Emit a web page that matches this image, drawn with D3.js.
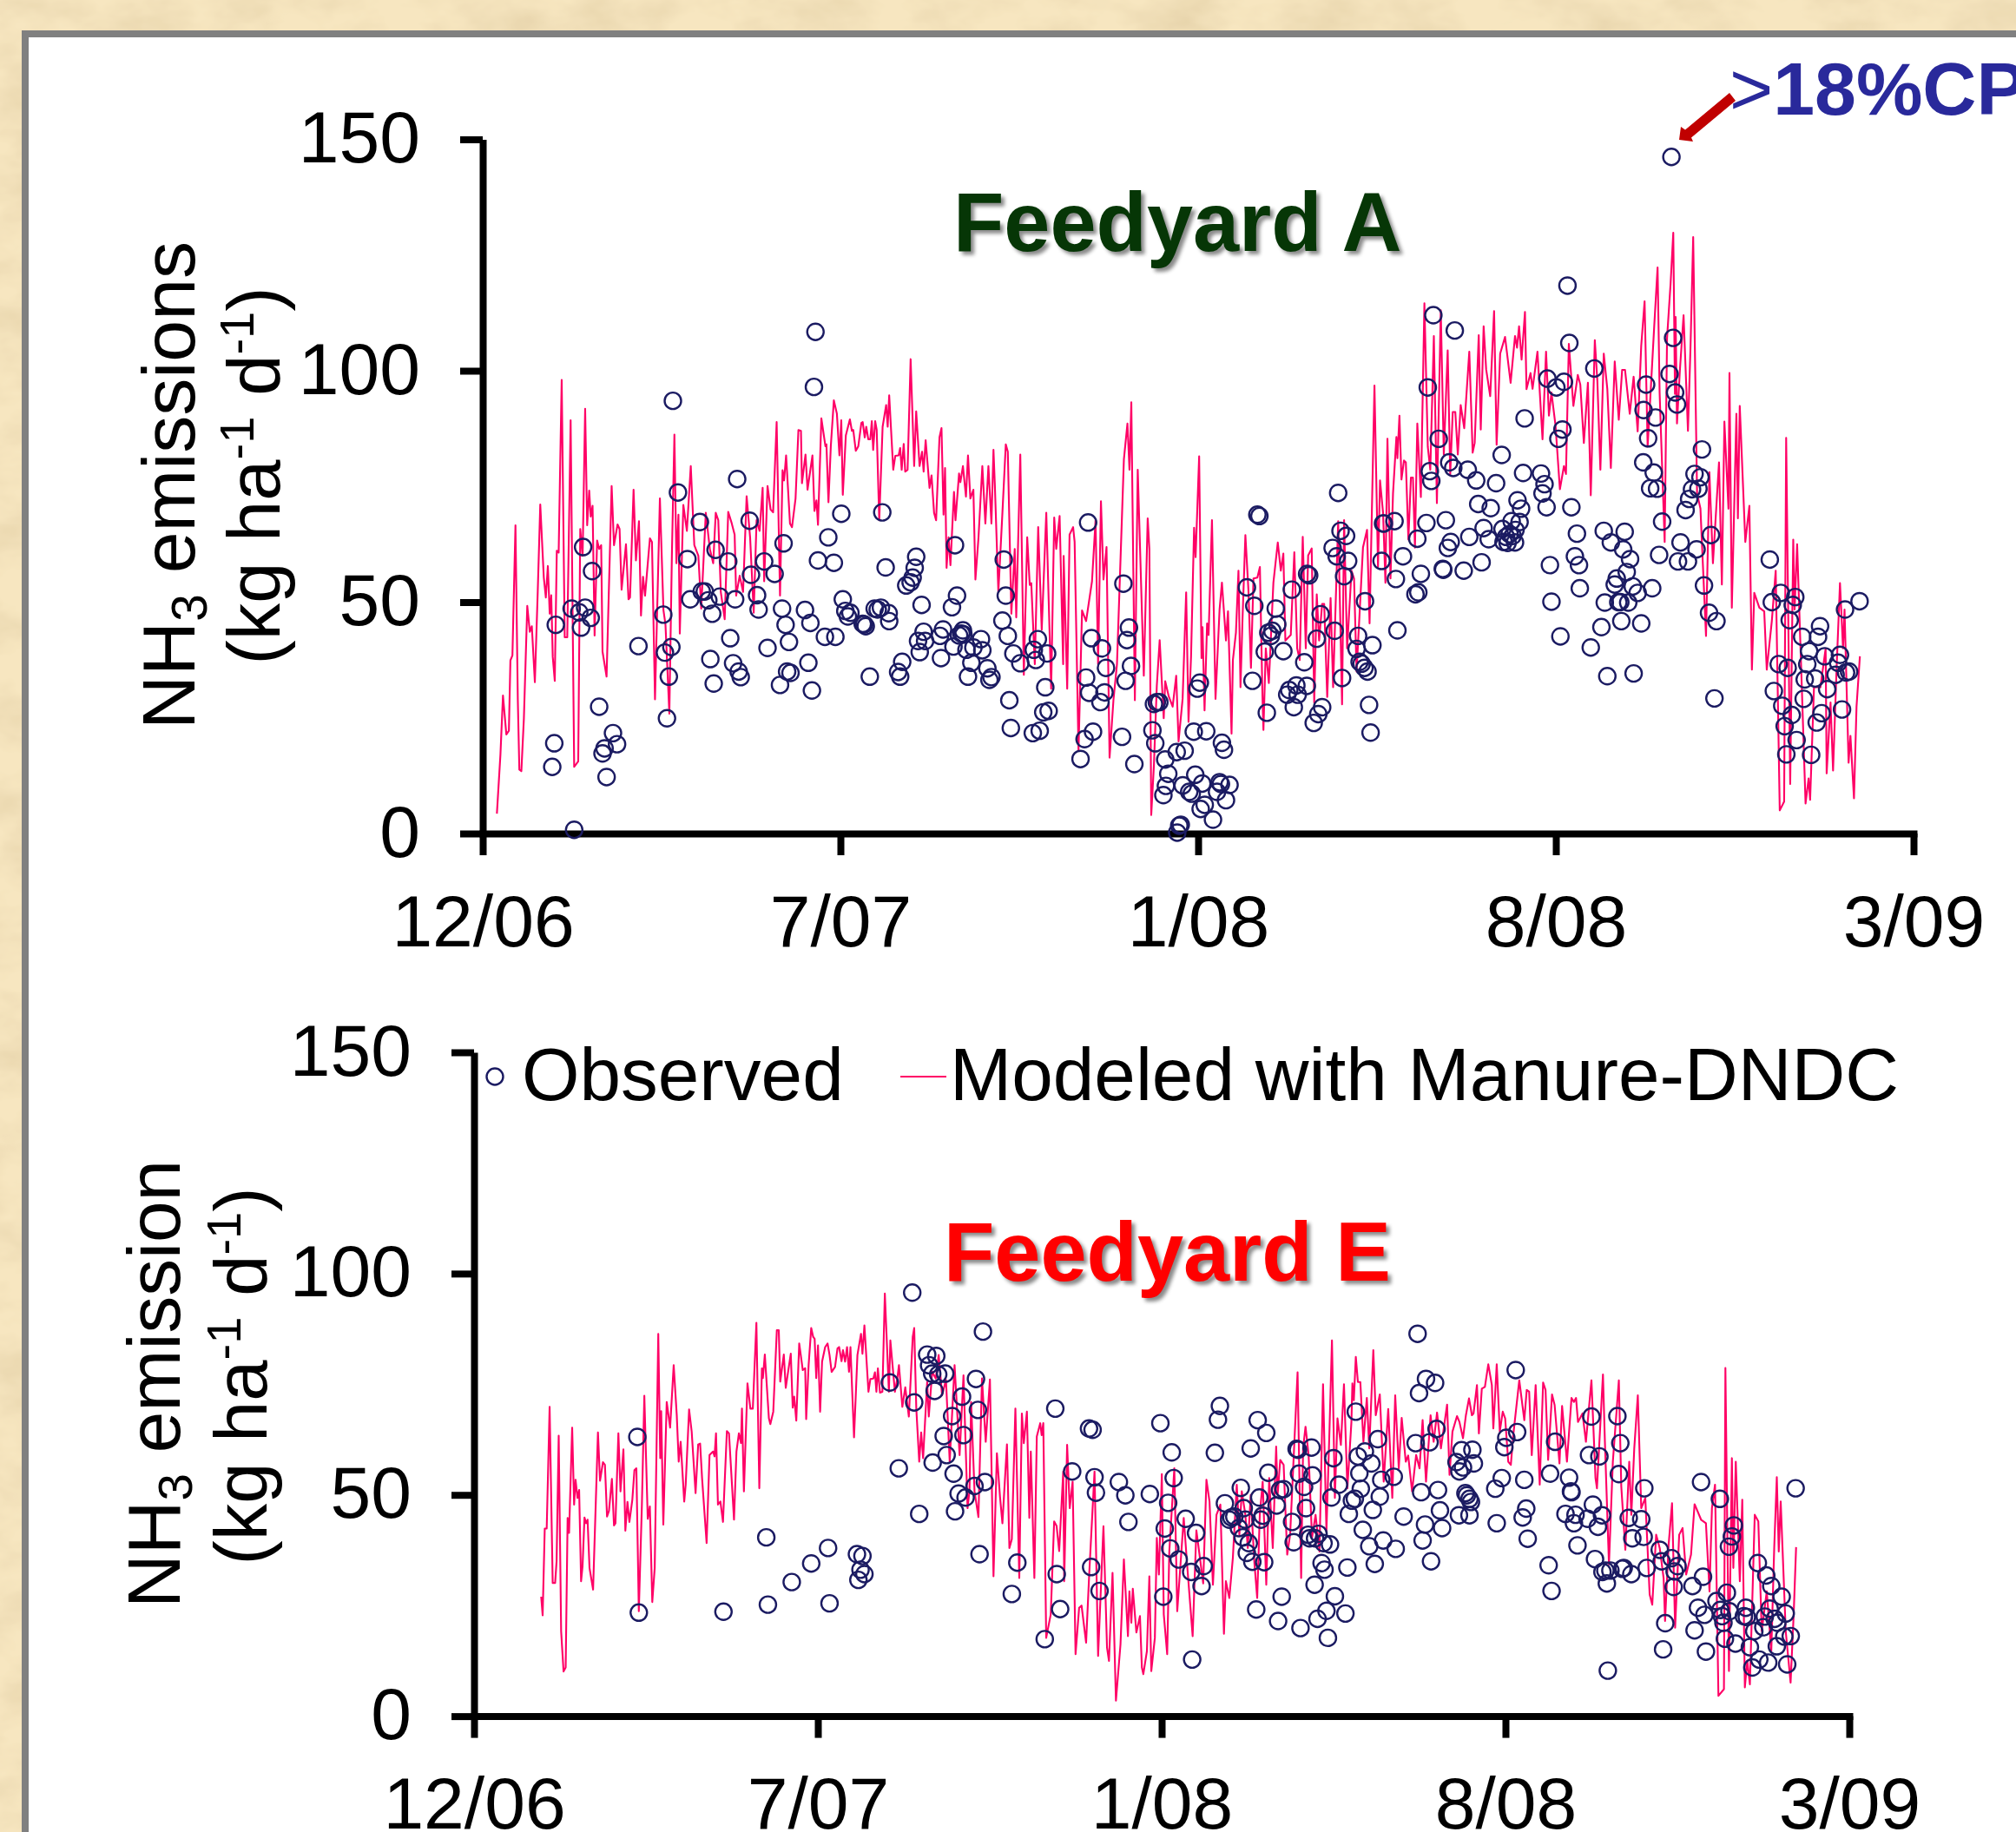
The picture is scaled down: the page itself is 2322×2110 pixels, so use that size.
<!DOCTYPE html>
<html>
<head>
<meta charset="UTF-8">
<script src="https://d3js.org/d3.v7.min.js"></script>
<style>
  html, body { margin: 0; padding: 0; background: #fff; overflow: hidden; }
  svg { display: block; }
  text { font-family: "Liberation Sans", Arial, sans-serif; fill: #000; }
  .axis path, .axis line { stroke: #000; stroke-width: 8px; }
  .axis text { font-size: 84px; font-family: "Liberation Sans", Arial, sans-serif; fill: #000; }
  .obs { fill: none; stroke: #1b1b62; stroke-width: 2.4px; }
  .model { fill: none; stroke: #ff0066; stroke-width: 2.1px; stroke-linejoin: round; }
  .title { font-size: 95.5px; font-weight: bold; filter: drop-shadow(4px 4px 2px #8a8a8a); }
</style>
</head>
<body>
<svg id="chart" width="2322" height="2110"></svg>
<script>
// x values are days counted from the 12/06 tick, the ticks are evenly spaced in the source
const xTickDays = [0, 212, 424, 636, 848];
const xTickLabels = ["12/06", "7/07", "1/08", "8/08", "3/09"];
const yTicks = [0, 50, 100, 150];

const feedyardAObserved = [[42.4,19.5],[41.2,14.4],[54.2,0.8],[43.3,45.1],[52.7,48.6],[57.2,47.8],[60.7,48.8],[64,46.6],[58.3,44.5],[59.5,61.9],[64.8,56.7],[69,27.4],[77.2,21.7],[79.6,19.3],[72.2,18.4],[71,17.3],[73.4,12.2],[92.3,40.5],[107,47.3],[108,39.1],[111.8,40.3],[110.3,33.9],[109.2,24.9],[112.7,93.5],[115.7,73.7],[121.3,59.3],[123,50.6],[128.7,67.3],[129.8,52.3],[131.6,52.3],[133.7,50.4],[136,47.5],[140.5,51.2],[138,61.3],[145.5,58.8],[149.6,50.6],[150.8,76.6],[158.2,67.6],[159,55.9],[162.6,51.5],[163.5,48.4],[166.8,58.8],[173,56.1],[178.3,62.7],[146.7,42.2],[134.9,37.7],[136.9,32.4],[148.4,36.8],[151.7,35],[152.9,33.8],[168.8,40.1],[177.4,48.6],[179.5,45.1],[181.5,41.4],[180.4,35],[182.4,34.7],[176.2,32.1],[191,48.3],[194.2,45.5],[193,36.9],[195.1,30.9],[197.2,108.4],[196.3,96.5],[198.7,59],[208.1,58.5],[204.8,64],[212.5,69.1],[213.4,50.6],[214.9,48.1],[217.9,47.7],[216.4,46.9],[202.8,42.5],[209,42.5],[225.2,45.3],[227,44.8],[226.1,45.2],[232.3,48.6],[234.1,48.4],[236,48.8],[240.6,47.6],[240.9,45.9],[236.8,69.4],[238.8,57.5],[229.4,33.9],[248.6,37.1],[246.2,34.9],[247.4,33.9],[256.9,59.8],[256,57.4],[254.8,55.3],[253.6,54.3],[251,53.6],[260.1,49.4],[279.9,62.3],[278.1,48.9],[281.1,51.4],[261.3,43.6],[258,41.6],[262.2,41.6],[259,39.2],[271,42.7],[272.8,44.1],[271.6,37.9],[279,40.4],[282.3,42.8],[284.6,43.9],[284.9,43],[283.7,43.2],[286.7,39.7],[290.8,40.2],[295.3,42],[296.1,39.6],[289.6,36.9],[287.6,33.9],[299.1,35.7],[301.5,33.8],[300.3,33.2],[308.8,59.2],[310,51.4],[308,46],[311.2,42.7],[314.5,38.9],[318.6,36.8],[312.1,28.8],[313,22.8],[326,21.7],[330.1,22.2],[327.8,37.5],[326.6,39.7],[329,42],[334.5,38.9],[333.4,31.6],[332.2,26.2],[335.4,26.5],[354.3,16.1],[356.7,20.4],[361.7,22],[358.8,67.2],[360.8,42.2],[367,40],[369.4,35.8],[357.6,33.7],[359.4,30.4],[368.5,30.5],[366.1,28.4],[378.9,20.9],[386.2,15],[379.7,54],[383,44.5],[381.8,41.8],[384.2,36.2],[381,33],[396.9,22.3],[397.8,28],[399.5,28.4],[401,28.4],[398.6,19.5],[404.5,16],[411.3,17.6],[416,17.9],[421.4,22],[428.8,22.1],[406.3,12.9],[404.9,10.3],[403.4,8.3],[414.9,10.4],[422.3,12.7],[418.7,9],[420.2,8.6],[426.4,10.8],[427.9,6.2],[425.5,5.3],[423.5,31.3],[425,32.6],[412.8,1.7],[413.7,1.9],[411.6,0.2],[438.1,19.6],[439.3,18.1],[436.7,11.1],[437.5,10.7],[442.6,10.5],[435.2,9],[440.5,7.2],[432.8,3],[452.9,53.2],[457.3,49.2],[459.1,68.9],[460.3,68.6],[456.2,33],[464.7,26.1],[463.5,39.3],[474.5,39.4],[470,48.6],[470.9,45.2],[465.6,43.4],[467.1,42.7],[468,43.8],[479.5,52.7],[488.6,56.1],[489.8,55.8],[496.6,47.4],[504.9,43.8],[494.3,42.1],[486.9,37],[488.4,31.9],[482.2,32],[478,31],[476.8,30],[483,30],[480.7,27.3],[497.5,27.3],[495.2,25.8],[492.5,23.9],[507,73.6],[508.4,65.4],[511.7,64.3],[503.7,61.7],[506.1,59.9],[512.9,58.9],[510.5,55.6],[522.9,50.2],[518.8,42.7],[517.9,39.9],[527.3,40.7],[519.7,37.1],[520.9,36.7],[522.6,35.8],[524.4,35],[509.3,33.6],[525.3,27.8],[526.2,21.8],[532.7,58.9],[533.6,67],[534.1,67],[540.4,67.5],[545.4,59.9],[541.2,55],[542.1,43.9],[552.8,51.7],[554.5,52.1],[556,56.1],[553.9,63.7],[559.3,67.1],[560.1,96.4],[563.4,112],[576.1,108.7],[566.6,85.3],[561.3,78.3],[562.2,76.2],[572.8,80.2],[575.2,79],[583.8,78.6],[588.8,76.3],[603.9,81.8],[600.6,75.7],[616.6,77.9],[570.8,67.7],[569.3,57],[569,57.2],[573.7,63],[572,61.7],[584.7,64.1],[581.4,56.8],[592,58.6],[590,71.2],[597.4,70.3],[593.2,66],[596.2,63.6],[604.4,65.8],[609.8,67.5],[613.3,72],[615.4,70.2],[614.5,67.3],[612.1,65.6],[606.5,64.1],[608.6,64.7],[610.4,64.3],[605,63],[607.4,62.8],[611.8,62.9],[627.2,77.8],[629.3,75.5],[628.1,73.5],[630.5,70.5],[617.5,89.7],[631,98.3],[636.3,96.4],[640.8,97.6],[642.9,118.4],[644,106],[639.9,87.3],[637.5,85.3],[645.2,70.5],[648.5,64.8],[632.5,58],[647.3,59.9],[649.7,58],[650.2,53],[633.4,50.1],[638.7,42.6],[658.8,100.5],[664.4,65.4],[668.6,62.9],[676.8,65.2],[675.9,61.4],[680,59.3],[678,56.5],[672.1,55.1],[670.9,53.8],[681.6,53.4],[684.5,52],[693.1,53],[665,49.9],[673,50],[674.2,50],[678.9,49.9],[663,44.6],[674.8,45.9],[686.6,45.4],[656.7,40.2],[666.5,34],[682.1,34.6],[687.8,80.2],[689.5,97],[688,91.5],[695.1,89.9],[690.7,85.4],[694,78],[691.9,74.6],[696,74.5],[703.4,99.3],[705.5,107.1],[706.7,95.3],[707.8,92.7],[704.5,146.2],[699,67.4],[697.2,60.2],[708.4,58.8],[714.3,58.8],[709.9,62.9],[719.4,61.4],[722.6,83],[718.2,77.7],[721.7,77],[716.7,74.4],[720.5,74.5],[715,72.3],[712.9,69.9],[727.9,64.5],[723.8,53.6],[726.8,47.7],[731.2,45.9],[730,29.2],[762.8,59.2],[769.3,52],[764,50],[777.9,51.1],[776.4,49.4],[774.6,46.1],[782,42.5],[792.6,44.8],[791.4,42.5],[807.4,48.4],[816,50.2],[786.1,39.4],[785,36.6],[795.3,38.3],[804.4,38.6],[803.3,36.9],[768.1,36.6],[773.4,35.8],[783.5,33.3],[789.7,33.5],[801.8,34.3],[808,34.8],[809.8,35],[796.8,31.2],[765.2,30.8],[782.9,29.1],[770.2,27.6],[775.8,25.6],[793.5,26],[790.6,24],[805.6,26.8],[771.6,23.2],[778.7,20.2],[772.6,17.1],[787.3,17]];

const feedyardAModeled = [[8.4,4.3],[10.5,17.1],[12,29.8],[14,21.4],[15.5,22.2],[16.4,37.4],[17.6,38.5],[19.4,66.6],[20.8,28.8],[21.7,13.8],[22.9,13.5],[24.4,24.9],[26.4,49.2],[27.9,43.6],[29.1,44.8],[30.9,32.7],[32.6,52.2],[34.1,71.1],[36.2,55.3],[37.4,51],[38.6,57.8],[39.7,47.5],[40.6,51.5],[41.5,38.2],[42.7,33],[43.9,61.1],[45,60.7],[46.8,98],[48.6,42.4],[50.1,42.4],[52.1,89.3],[54.2,14.4],[56.6,15.6],[57.8,65.8],[59.2,60],[60.7,91.8],[61.9,66.6],[63.1,74.1],[64,68.5],[65.1,70.8],[66.3,42.8],[67.8,63.3],[69,61.5],[70.2,62.3],[71,39.3],[73.4,33.9],[76.4,75.1],[77.8,62.3],[79.9,66.8],[81.1,65.8],[82.3,52.7],[84.9,62.5],[86.4,50.6],[87.3,51],[89.4,74.3],[90.8,59],[92.6,67.5],[93.8,47.1],[95,55.5],[96.2,51.4],[98.2,60],[99.1,63.8],[100.3,63],[102.1,29],[105,72.4],[107.1,48.3],[108.3,45.2],[110.6,25.9],[112.1,60],[113.6,86.2],[114.8,58.4],[116,68.9],[116.8,43.2],[118.9,71],[121,65.4],[123.3,79.4],[125.4,62.3],[127.8,60],[129.5,48.6],[132.2,69.3],[134.6,61.5],[136.6,58.4],[138.1,69.3],[139.6,67.7],[141.1,52.2],[143.4,46.3],[145.5,69.5],[147.6,67],[149.3,64.6],[150.2,51.4],[152.3,55.7],[154.3,52.2],[156.4,72.9],[158.5,63.8],[160.6,47.7],[162.3,67.7],[164.1,65.4],[165.9,74.7],[166.8,54.5],[168.8,75.1],[170.6,70],[172.1,69.4],[174.2,88.9],[176.2,51.4],[177.7,78.5],[178.6,76.3],[179.8,81.7],[182.1,67],[183.3,66.2],[185.4,72.4],[187.1,87.2],[188.6,87],[189.2,75.7],[191.3,81.9],[192.5,74.3],[195.4,81.7],[196.6,69.7],[197.8,72],[198.7,66.7],[200.7,89.7],[203.1,83.7],[203.7,84.1],[204.9,71.6],[206.3,83.7],[208.1,93.6],[209.9,90.7],[211.4,81.7],[212.5,89.3],[213.4,73.2],[215.2,86],[217.6,89.5],[218.8,87],[219.6,87.2],[221.1,82.7],[222.6,83.7],[224.4,88.7],[225.2,88.9],[226.4,85.6],[227.3,87.9],[228.5,85.2],[229.7,85.2],[230.6,89.1],[231.4,82.9],[232.6,89.1],[233.5,87.2],[235,67.7],[237,87.9],[239.1,92.6],[240,87.9],[240.9,94.7],[243.3,78.6],[244.5,81.6],[246.5,81.7],[247.4,83.3],[248.3,78.6],[249.5,84.2],[250.4,78.2],[251.8,78.6],[253.6,102.5],[255.7,79.4],[256.9,91.2],[258.9,79.4],[260.4,82.5],[261.3,78.2],[262.5,85],[264.8,74.7],[266,77.4],[267.5,69.3],[268.7,67.7],[270.7,85.6],[271.9,87.6],[273.1,68.9],[274,79],[274.9,57.4],[276.1,64],[277.2,58],[279.3,73.8],[280.2,67.7],[282.3,77.8],[283.1,75.9],[284.6,79.4],[286.4,72.8],[287.6,81.7],[289,72.4],[290.8,74.3],[292,54.9],[293.8,63.8],[296.1,79.4],[297.9,67],[299.7,79.4],[301.5,67],[302.7,82.9],[303.5,75.5],[305.6,52.2],[308,69.3],[310,84.1],[311.2,82.5],[313.3,47.5],[315.3,61.5],[316.2,46.7],[318.6,81.9],[320.7,34.3],[322.7,64],[324.2,53.7],[325.1,54.1],[327.2,36.6],[329.2,66.2],[331.3,44],[334,69.3],[335.4,50.6],[336.9,31.3],[338.7,68.3],[339.9,61.5],[341.9,68.6],[344,36.6],[344.3,60],[346.4,31.3],[347.8,64.6],[349.9,66.2],[350.8,63],[353.1,17.9],[355.2,48.2],[357.6,45.9],[361.1,54.5],[363.2,67.7],[364.7,36.6],[366.4,71.8],[367.9,54.9],[369.7,61.9],[371.5,16.4],[373.8,28.8],[375.9,36.6],[380,80.9],[382.1,88.6],[383.3,78.6],[384.4,93.2],[386.5,28.8],[388.2,78.6],[391.8,34.1],[394.1,68.1],[395.1,61.5],[396.2,4],[397.8,14.8],[399.5,31.9],[401.2,41.8],[403.6,24.9],[404.5,32.9],[406.6,29.6],[408.9,27.4],[411,34.1],[412.4,19.9],[414.8,29.1],[416.9,52.1],[418.3,24.1],[419.8,38.3],[421.6,66.1],[422.5,59.7],[424.6,81.5],[426,37.9],[426.6,44.6],[427.8,26.6],[429.3,45.4],[430.2,42.9],[432.2,67.7],[434.3,29.1],[436.7,48.4],[438.1,54.2],[440.5,41.7],[441.7,48],[443.8,21.6],[444.6,37.5],[446.4,43.4],[447.9,56.8],[449.1,31.6],[450.3,46.3],[452,64.5],[453.8,52.6],[455.3,35.8],[456.8,55.1],[459.1,55.3],[460.6,57.6],[462.1,30],[462.7,22.4],[464.1,40],[465.9,32.5],[468.6,54.2],[471.2,62.9],[473,56.8],[474.5,60.5],[475.7,41.7],[478.9,42.9],[481,60.8],[482.7,40],[484.2,37.5],[486,64.1],[487.8,40],[489.2,60.1],[491.3,61.6],[492.8,28.3],[494.3,51.7],[495.7,41.7],[497.5,49.6],[498.7,49.6],[500.5,29.5],[502.5,50.9],[504,31.6],[507,67.5],[509.3,27.9],[510.5,67.7],[512.3,40],[514.9,56.8],[516.4,55.1],[517.9,35],[521.7,61.8],[524.1,65.6],[525.6,45.4],[528.5,96.8],[530.6,57.6],[531.8,76.3],[533.6,69.3],[535,54.2],[536.2,85.3],[538,55.1],[539.5,73.5],[541.5,85.7],[542.1,81.1],[543.3,90.3],[544.5,76.5],[546,80.6],[547.1,80.2],[548.6,63.5],[550.1,76.9],[551.3,76.9],[552.5,61.8],[553.9,88.6],[556,72.7],[558.1,114.6],[560.1,83.6],[561.6,78.6],[563.7,107.5],[565.5,71.4],[567.8,113.1],[569.6,81.9],[571.9,104.4],[573.4,77.7],[574.9,91.1],[576.4,91.1],[577.9,81.9],[579.6,92.6],[581.7,87.6],[584.7,104.1],[586.7,82.3],[587.9,84.4],[590.3,107.7],[591.5,87.3],[593.2,109.6],[594.7,100.3],[597.1,94.5],[599.4,112.9],[600.9,84],[603,103.7],[605.9,107.3],[609.2,97.4],[611.8,107.5],[613,105],[614.2,109.6],[615.7,102.4],[617.7,112.7],[618.6,96],[621,99.5],[622.2,96.1],[625.1,104.1],[628.1,85.2],[630.2,104.1],[631.9,90.3],[633.4,95.3],[635.8,88.2],[638.4,74.4],[640.8,79.4],[642,77.7],[643.7,105.8],[646.4,92.4],[649,99.1],[650.5,97],[652.6,84.4],[655,97.4],[656.7,73.1],[659.1,106.6],[660.6,97.8],[662.4,78.6],[664.4,103.7],[666.5,96.1],[668.6,79],[670.9,102],[673.3,89.4],[675.3,100.2],[677,100.2],[679.8,90.7],[682.1,98.7],[684.5,86.9],[686.6,105.4],[688.6,115],[690.4,83.6],[694.3,109.6],[696.3,122.3],[697.5,95.3],[700.5,63],[701.9,107],[704,118.8],[705.6,129.8],[706.6,95],[707,111.6],[707.8,88.6],[709.5,100],[711.7,112],[714.3,87],[715.8,105],[717.4,128.9],[719.7,73.5],[721.7,70.2],[725,42.7],[727,78.1],[729.1,58.4],[732.7,80.2],[734.4,53.8],[735.9,89],[738.3,70.2],[738.9,99.5],[740.3,48.8],[743,90.7],[743.9,68.1],[745,92.4],[748.3,63],[750.7,70.8],[752.2,35.4],[753.6,52],[756.6,48.8],[759.5,48],[761,35.4],[764,45.9],[766.3,56.8],[768.7,5],[771.3,6.9],[772.5,85.5],[774.9,10.7],[776.7,63.5],[777.5,48.4],[779,62.5],[781.4,35.8],[784,6.5],[785.8,11.9],[786.7,7.3],[789,31.6],[792.8,31.6],[795.9,40],[796.5,13],[798.8,28.3],[800.3,13.6],[802.4,35.8],[804.4,54.1],[806.2,40],[807.1,48.4],[809.5,15.3],[810.6,21.1],[812.7,7.6],[814.2,27.4],[816.2,38.3]];

const feedyardEObserved = [[100.7,63.1],[101.6,23.4],[153.8,23.6],[181.2,25.2],[180.2,40.4],[195.9,30.3],[207.9,34.5],[218.3,38],[219.2,25.5],[236.1,36.6],[239.5,36.2],[238.3,33.1],[240.7,32.1],[237,30.8],[256.4,75.4],[270.2,95.7],[271.4,70.9],[261.9,56],[274.5,45.7],[282.8,57.3],[279.4,81.7],[285,81.4],[280.6,79.3],[282.5,77.4],[286.2,77.2],[290.5,77.4],[284,73.5],[294.8,67.8],[289.6,63.3],[301.8,63.5],[300.9,72.2],[309.5,76.2],[310.7,69.2],[313.8,86.9],[291.4,59],[295.7,54.8],[298.8,50.3],[303.1,49.4],[308.6,52],[315,52.9],[296.6,46.3],[311.7,36.6],[335,34.7],[331.6,27.6],[351.9,17.4],[359.3,32.1],[361.4,24.2],[358.4,69.5],[379.2,65],[381.4,64.7],[368.8,55.3],[382.6,54],[383.5,50.5],[380.5,33.7],[385.7,28.3],[397.6,52.9],[401.6,49.9],[403.5,43.9],[416.7,50.2],[423.2,66.2],[430.2,59.6],[431.4,53.8],[428,48.2],[425.9,42.4],[429.3,37.9],[434.5,35.4],[425,27],[438.8,44.6],[445.2,41.4],[442.2,32.6],[449.9,33.9],[448.6,29.4],[442.8,12.8],[456.8,59.5],[458.7,67],[459.9,70.1],[478.9,60.5],[483.2,66.9],[488.5,64],[489.7,55],[463,48.1],[472.8,51.6],[474.6,47],[467,44.9],[468.8,45.1],[465.7,44.4],[475.6,44.4],[471.6,42.5],[474,40.4],[477.7,39.1],[476.5,36.9],[479.9,34.9],[487.2,34.8],[484.2,49.4],[486.3,45.3],[485.1,44.4],[494.9,47.6],[497,51.1],[499.2,51.3],[482.3,24.1],[495.8,21.5],[498,27],[509.6,19.9],[526.5,17.7],[520.1,22],[525.6,23.8],[530.8,27.1],[537.3,23.2],[518.3,29.7],[524.4,33.1],[522.6,34.6],[538.5,33.6],[505.4,39.3],[504.4,43.9],[513,47],[511.8,51.8],[508.7,54.8],[517,54.4],[507.2,60.4],[508.1,60.2],[516.4,60.7],[529.9,58.3],[514.3,41],[515.2,40.2],[520.7,41.2],[518.6,40.2],[523.8,39.1],[527.8,38.8],[528.7,49.4],[533.3,52.3],[539.4,45.7],[541.3,48.7],[543.1,49.1],[546.8,51.4],[545.9,54.9],[545,58.7],[549.3,59.8],[553.3,57.1],[543.7,68.8],[557.3,62.6],[559.4,53.4],[567.1,54.1],[558.5,49.6],[554.2,46.6],[548,42.1],[552,38.4],[560.6,39.7],[568.3,37.8],[555.4,34.4],[573.2,45.1],[584,50.6],[594.4,51.1],[595.6,46.5],[586.4,43.3],[596.9,42.5],[584.9,39.7],[590.1,35],[580.6,61.7],[589.2,61.9],[593.5,64.9],[581.8,86.4],[587,76.2],[592.6,75.3],[582.7,73],[608.9,60.1],[615.6,60.2],[605.8,57.4],[616.5,57.1],[609.8,56.2],[607.6,55.3],[611.3,50.4],[612.2,49.9],[613.8,49.1],[614.7,48.4],[607.3,45.4],[613.8,45.4],[630.6,43.6],[629.7,51.4],[633.7,53.8],[635.3,60.8],[636.5,62.9],[643.2,64.2],[642.3,78.2],[647.6,53.4],[648.8,46.9],[646.6,44.9],[649.7,40.1],[666.6,62],[663.5,54.8],[675.2,53.9],[676.4,50.8],[676.7,50.6],[673,45.7],[679.2,45.5],[678.2,43.6],[686.6,44.6],[689.9,47.8],[695.5,45.4],[693,42.8],[687.5,59],[693.9,58.7],[689,67.7],[705,67.8],[706.8,61.7],[705.9,54.7],[721.6,51.5],[680.4,38.6],[691.2,35.5],[662.6,34.1],[664.4,28.3],[699.1,10.3],[698.5,30],[695.8,32.6],[697.6,32.9],[700.7,32.9],[708.9,33.5],[708,33.3],[713.6,32.1],[723.1,33.5],[712,44.8],[719.7,44.5],[714.2,40.2],[721.2,40.5],[731.1,37.6],[732.3,35],[738.4,35.7],[742.1,33.9],[740.3,32.7],[739.7,29.2],[751.3,29.4],[757.8,31.5],[734.5,21],[733.2,15.1],[752.6,19.4],[754.7,24.5],[758.7,22.9],[759.6,14.6],[756.6,52.9],[768.2,49.1],[776.8,43.1],[775.6,40.6],[773.8,38.3],[791.6,34.6],[814.9,51.5],[796.8,31.8],[799.9,29.4],[806.3,27],[772.5,27.9],[766.1,26],[768.5,24],[774.1,23.7],[769.5,22.6],[770.4,21.1],[784.2,24.5],[783,22.6],[784.8,22.4],[798.9,24.3],[795.9,22.5],[795,20.1],[802,22],[803.6,21.1],[808.8,23.2],[789.4,19.2],[771.3,17.5],[777.8,16.4],[786.7,15.6],[803.3,15.8],[807.9,18],[811.9,18.1],[792.5,12.8],[788.2,11],[798,12.1],[809.7,11.7]];

const feedyardEModeled = [[41.4,27],[42.3,22.8],[43.6,42.4],[44.8,42.4],[46.6,69.9],[48.5,30.1],[50,30.1],[50.9,35],[52.2,63.4],[53.7,19.2],[55.2,10.1],[56.5,11],[57.7,44.8],[58.6,41.4],[60.5,65.2],[61.7,47.8],[62.6,53.4],[63.8,49.3],[64.8,51.1],[66,30.5],[66.9,33.9],[68.1,44.9],[69.1,43.6],[70,44.4],[71.2,33.5],[73.4,28.6],[76.4,64.1],[77.7,53.2],[79.5,57.4],[80.7,56.8],[82,45.1],[83.2,46.4],[85,53.6],[86.3,43.1],[87.2,43.6],[89,63.9],[90.3,50.8],[92.1,60.3],[93.3,41.9],[94.6,48.4],[95.8,43.9],[97.6,48.9],[98.9,55.6],[100.1,56],[101.6,23.7],[103.5,47.8],[105,72.4],[107.1,44.6],[108.4,47.4],[109.9,25.8],[111.4,33.5],[113.6,86.4],[114.8,58.3],[115.4,68.9],[116.7,43.3],[118.8,71],[120.9,65.2],[123.1,79.3],[125,68],[126.2,57.5],[127.4,62],[129.6,48.5],[130.5,52.3],[132.6,69.3],[134.2,64.3],[136.6,50.4],[138.2,61.4],[139.4,61.6],[140.6,53.8],[143.4,39.1],[145.2,59],[147.4,59.8],[148.3,58.7],[149.2,63.9],[150.4,47.8],[151.9,48.5],[153.5,43.9],[155.9,64.4],[157.2,63.9],[160.3,44.4],[161.8,59.8],[163.3,63.9],[164.6,61.7],[165.2,69.5],[166.4,50.8],[168.6,75.2],[170.4,69.5],[171.9,69.5],[174.1,88.9],[175.9,51.5],[177.5,78.6],[178.1,76.4],[179.3,81.7],[181.8,67.3],[182.7,66],[184.5,68.8],[186.7,87.2],[187.9,87.2],[188.8,75.6],[191,81.7],[192.2,74.2],[195.3,81.9],[196.5,69.7],[197.4,72.2],[198.7,66.8],[200.5,84.2],[202.7,78.2],[204.2,78.6],[204.8,67.1],[206.3,79.3],[207.9,87.7],[209.1,85.7],[210,85.3],[211,76.4],[212.1,83.8],[213.4,68.8],[214.6,80.1],[216.5,83.4],[218,84.2],[219.2,81.6],[220.5,77.8],[222.6,78.9],[224.1,83.1],[225.1,83.4],[226.6,80.2],[227.5,82.7],[228.8,80.1],[230,83.4],[231.2,77.8],[232.1,83.4],[234.3,63],[236.4,81.6],[238.6,86.4],[239.5,81.9],[240.7,88.3],[243.2,73.3],[244.4,76.2],[246.2,76.3],[247.2,77.7],[248.1,73.3],[249,78.6],[250.3,73.1],[251.8,73.3],[253.3,95.5],[255.8,73.3],[256.7,84.9],[259.5,73.3],[261,76.3],[262,79.3],[264.1,69.9],[265.9,74.3],[268.1,67.7],[270.5,85.7],[271.4,87.7],[272.7,69.5],[274.5,57.5],[275.7,64.1],[276.9,58.3],[279.4,75.5],[280.4,67.7],[282.5,77.8],[284.7,76.3],[286.5,81.6],[288.6,72.5],[291,76],[293.3,57.5],[296.3,79.3],[299.4,59],[301.8,77],[304.3,47],[305.5,51],[306.5,71],[308.6,50.8],[311,45],[313.2,76.3],[315.5,62],[318.1,76.1],[320.3,31.6],[322.4,59.4],[324.3,49.6],[325.8,43.6],[328.6,61.4],[330.1,38],[331.6,40],[333.8,69.5],[336.2,31.2],[337.8,68.4],[339,61.7],[340.9,68.8],[342.4,44.8],[343.3,59.8],[345.5,31.2],[347,63.2],[349.1,66.2],[350,63.5],[351,66.2],[352.8,17.7],[355.6,23],[357.7,44],[359.2,43],[360.8,37.3],[363.3,55.3],[363.9,30.5],[365.7,61.3],[367.3,47],[369.1,53],[370.9,14],[373.1,24.5],[374.6,25],[377.4,16.6],[379.3,32],[382.6,55.3],[384.8,13.6],[388.1,42.9],[390.3,15.5],[391.5,12.5],[393.7,32.4],[395.8,3.5],[398.6,16.2],[400.7,35.4],[403.2,18.1],[404.1,28.2],[405.3,21.1],[406.2,28.8],[408.4,18.9],[410.6,22.6],[411.8,11],[412.7,9.5],[414.9,14.7],[416.4,31.6],[417.6,10.2],[419.8,17.7],[421,40.3],[422.3,32],[424.1,54.7],[425.3,23],[427.4,14],[428.7,37.2],[431.8,56],[433.6,23.7],[437.6,44.8],[439.7,34.2],[443.1,18.1],[445.4,42],[449.6,30],[451.6,53.4],[453.5,48.5],[455.6,29.7],[457.8,45.5],[460.2,47.8],[462.4,18.6],[463.6,30.5],[465.7,26.7],[467.9,35.8],[470.3,52.3],[471.9,41],[473.4,50.8],[475.6,45.5],[477.1,38],[478.9,50],[481.1,35],[482.9,26.7],[484.5,45.5],[486.3,53],[488.5,29.7],[490.3,53.8],[492.5,38],[494.6,60.9],[495.5,50],[497.1,57.9],[499.2,56.8],[501.4,36.5],[503.2,41],[507.8,77.7],[510,31.2],[511.2,60.5],[512.7,65.4],[514.6,59],[516.7,40.3],[518.9,45.5],[521.3,37.2],[523.5,75],[525.6,41.8],[527.5,65],[529,84.9],[530.8,49.3],[532.4,67.3],[534.5,61.3],[536.4,75],[538.5,51.5],[541,66.5],[541.6,75.2],[542.5,71.4],[543.7,81.2],[545,75.5],[546.5,75.5],[548.4,62],[550.5,71.9],[552,60.5],[554.5,82.7],[556,68],[558.5,72.7],[560.9,53],[563.7,69.4],[566.2,49.3],[568,72.5],[570.2,56],[572,67.4],[574.5,57.5],[576,58.9],[578.4,50.8],[580.9,59],[583,56],[584.9,66.9],[587,53],[589.8,68],[591.7,62],[593.8,68.6],[596.2,60.5],[600,70.4],[601.5,54.5],[603.3,64.3],[606.1,67.8],[607.6,66.5],[609.8,62.8],[611.6,68],[613.5,71.8],[615.3,68],[616.3,68.4],[618.4,74.8],[619.6,63.9],[621.4,74],[623.3,74.4],[625.4,79.5],[627.6,74.8],[628.5,65],[630.6,79.5],[632.5,64.3],[634.3,68.8],[635.8,67.3],[637.7,57.5],[639.3,56.8],[640.8,63.5],[644.5,75.9],[647.6,66.9],[649.1,73.7],[650.6,73.3],[652.2,59],[654.6,74.8],[657.1,52.3],[659.2,75.4],[660.7,73.7],[662.3,57.9],[664.7,72.7],[666.3,70.3],[669.3,57.1],[670.9,70.1],[673.9,57.5],[676.7,71.9],[678.2,71],[679.5,71.9],[680.7,66.5],[683.5,68.4],[685.6,62],[689,75.9],[691.5,53.8],[692.4,51.5],[696.1,77.2],[697.3,62],[699.8,34.3],[702.2,57.5],[705.9,75.9],[707.4,51.9],[709.9,37.6],[712.3,57.5],[713.6,45.5],[715.4,60.5],[717.6,72.5],[719.7,47],[722.2,49.3],[724.9,27.5],[726.5,25.2],[728.9,41],[731.1,38],[733.5,31.2],[734.4,21.5],[736.6,38.8],[738.7,48.1],[740.6,20],[743.1,41],[745.2,42.5],[747.4,32],[750.4,36.5],[752.6,47.9],[756.6,44.4],[759.6,43.6],[761.8,28.2],[763.3,47],[765.2,52.3],[767.3,4.6],[770.7,6.1],[771.6,78.7],[773.8,10.2],[775.6,58.3],[776.5,33.5],[778,57.5],[780.5,30.5],[782,48.9],[783.6,6.5],[785.1,12.5],[786.7,7.2],[789.7,45.5],[791.9,44],[794,19.2],[797.1,28.2],[799.9,14.7],[801.7,38],[803.3,54],[804.5,37.2],[805.7,48.5],[808.8,19.2],[811.8,7.6],[813.7,23],[815.2,38.2]];

const svg = d3.select("#chart");
const defs = svg.append("defs");

// paper texture behind the white slide
const paper = defs.append("filter").attr("id", "paper")
  .attr("x", 0).attr("y", 0).attr("width", "100%").attr("height", "100%");
paper.append("feTurbulence").attr("type", "fractalNoise")
  .attr("baseFrequency", "0.012 0.02").attr("numOctaves", 4).attr("seed", 7);
paper.append("feColorMatrix").attr("type", "matrix")
  .attr("values", "0 0 0 0 0.72  0 0 0 0 0.58  0 0 0 0 0.34  1.1 0 0 0 -0.42");
paper.append("feBlend").attr("in2", "SourceGraphic").attr("mode", "normal");

svg.append("rect").attr("width", 2322).attr("height", 2110).attr("fill", "#f7e6c0").attr("filter", "url(#paper)");
svg.append("rect").attr("x", 29).attr("y", 39).attr("width", 2400).attr("height", 2200)
  .attr("fill", "#fff").attr("stroke", "#808080").attr("stroke-width", 8);

const line = d3.line().x(d => d[0]).y(d => d[1]);

function drawPanel(cfg) {
  const x = d3.scaleLinear().domain([0, 848]).range(cfg.xRange);
  const y = d3.scaleLinear().domain([0, 150]).range(cfg.yRange);

  const xAxis = svg.append("g").attr("class", "axis")
    .attr("transform", `translate(0,${cfg.yRange[0]})`)
    .call(d3.axisBottom(x).tickValues(xTickDays)
      .tickFormat((d, i) => xTickLabels[i]).tickSize(25).tickSizeOuter(0).tickPadding(45));
  const yAxis = svg.append("g").attr("class", "axis")
    .attr("transform", `translate(${cfg.xRange[0]},0)`)
    .call(d3.axisLeft(y).tickValues(yTicks).tickSize(26).tickSizeOuter(0).tickPadding(46));

  yAxis.selectAll("text").attr("dy", "0.31em");
  xAxis.select(".domain").attr("stroke-linecap", "square");

  svg.append("path").attr("class", "model")
    .attr("d", line(cfg.modeled.map(d => [x(d[0]), y(d[1])])));

  svg.selectAll(null).data(cfg.observed).enter().append("circle")
    .attr("class", "obs")
    .attr("cx", d => x(d[0])).attr("cy", d => y(d[1])).attr("r", 9.5);

  svg.append("text").attr("class", "title")
    .attr("x", cfg.titleX).attr("y", cfg.titleY)
    .style("fill", cfg.titleColor).text(cfg.title);

  cfg.yTitle.forEach(t => {
    const label = svg.append("text")
      .attr("transform", `translate(${t.x},${t.y}) rotate(-90)`)
      .attr("text-anchor", "middle").style("font-size", t.size + "px");
    t.parts.forEach(p => {
      const s = label.append("tspan").text(p.text);
      if (p.shift) {
        s.attr("dy", p.shift).style("font-size", "0.66em");
      } else if (p.back) {
        s.attr("dy", p.back);
      }
    });
  });
}

drawPanel({
  xRange: [556, 2204], yRange: [960, 160.5],
  observed: feedyardAObserved, modeled: feedyardAModeled,
  title: "Feedyard A", titleX: 1098, titleY: 289, titleColor: "#063606",
  yTitle: [
    { x: 224, y: 559, size: 86, parts: [
      { text: "NH" }, { text: "3", shift: 14 }, { text: " emissions", back: -14 }] },
    { x: 322, y: 548, size: 85, parts: [
      { text: "(kg ha" }, { text: "-1", shift: -30 }, { text: " d", back: 30 },
      { text: "-1", shift: -30 }, { text: ")", back: 30 }] }
  ]
});

drawPanel({
  xRange: [546, 2130], yRange: [1976.6, 1212],
  observed: feedyardEObserved, modeled: feedyardEModeled,
  title: "Feedyard E", titleX: 1087, titleY: 1475, titleColor: "#ff0000",
  yTitle: [
    { x: 207, y: 1594, size: 85.5, parts: [
      { text: "NH" }, { text: "3", shift: 14 }, { text: " emission", back: -14 }] },
    { x: 307, y: 1585, size: 85, parts: [
      { text: "(kg ha" }, { text: "-1", shift: -30 }, { text: " d", back: 30 },
      { text: "-1", shift: -30 }, { text: ")", back: 30 }] }
  ]
});

// legend
svg.append("circle").attr("class", "obs").attr("cx", 570).attr("cy", 1240).attr("r", 9.5);
svg.append("text").attr("x", 601).attr("y", 1267).style("font-size", "85.5px").text("Observed");
svg.append("line").attr("x1", 1037).attr("x2", 1090).attr("y1", 1240).attr("y2", 1240)
  .attr("stroke", "#ff0066").attr("stroke-width", 2.1);
svg.append("text").attr("x", 1094).attr("y", 1267).style("font-size", "85.5px").text("Modeled with Manure-DNDC");

// >18%CP callout
const note = svg.append("text").attr("x", 1992).attr("y", 132).style("font-size", "86px").style("fill", "#29299b");
note.append("tspan").text(">");
note.append("tspan").style("font-weight", "bold").text("18%CP");
svg.append("polygon").attr("fill", "#c00000")
  .attr("points", "1934,161 1936,146 1941,149.5 1992,107 1999,116 1948,158.5 1950,163");
</script>
</body>
</html>
